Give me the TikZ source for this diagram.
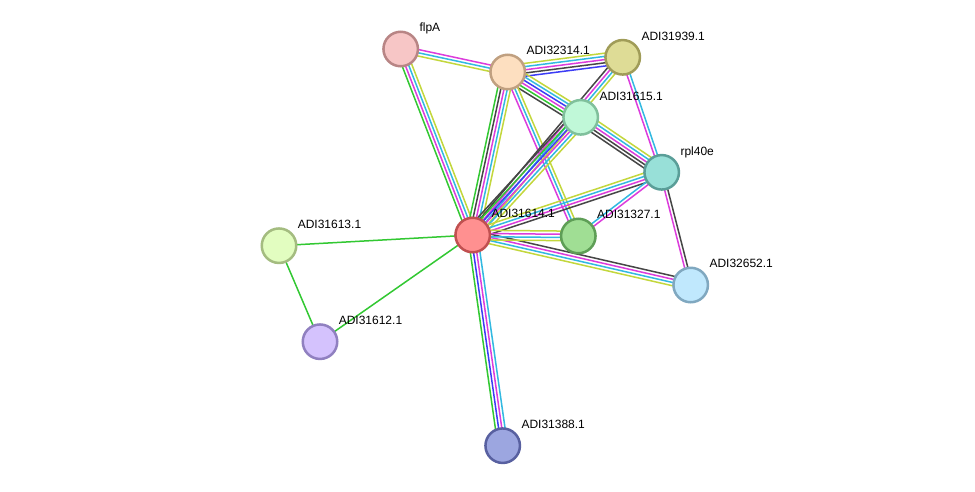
\documentclass[tikz,border=0pt]{standalone}
\usepackage{fontspec}
\setmainfont{Liberation Sans}
\usetikzlibrary{calc}
\pgfdeclarelayer{edges}
\pgfsetlayers{edges,main}

\definecolor{eGreen}{RGB}{50,200,50}
\definecolor{eBlue}{RGB}{60,60,245}
\definecolor{eMag}{RGB}{220,60,220}
\definecolor{eCyan}{RGB}{50,185,225}
\definecolor{eYel}{RGB}{195,215,60}
\definecolor{eBlack}{RGB}{70,70,70}

\tikzset{
  prot/.style={circle, minimum size=34.5pt, inner sep=0pt, line width=2.5pt},
  lbl/.style={anchor=base west, font=\fontsize{12}{14}\selectfont, inner sep=0pt, text=black},
  ln/.style={line width=1.5pt},
}

\newcommand\bund[4]{%
  \foreach \c [count=\i] in {#4}{%
    \pgfmathsetmacro\dd{(\i-(#3+1)/2)*3.2}%
    \draw[ln,color=\c] ($(#1.center)!\dd pt!90:(#2.center)$) -- ($(#2.center)!\dd pt!-90:(#1.center)$);
  }%
}

\begin{document}
\begin{tikzpicture}[x=1pt,y=-1pt]
\useasboundingbox (0,0) rectangle (975,491);

\node[prot, draw={rgb,255:red,184;green,133;blue,133}, fill={rgb,255:red,247;green,198;blue,198}] (flp) at (400.7,49) {};
\node[prot, draw={rgb,255:red,192;green,160;blue,128}, fill={rgb,255:red,253;green,223;blue,192}] (a32314) at (507.7,72) {};
\node[prot, draw={rgb,255:red,160;green,156;blue,88}, fill={rgb,255:red,222;green,220;blue,150}] (a31939) at (622.7,57.3) {};
\node[prot, draw={rgb,255:red,128;green,192;blue,156}, fill={rgb,255:red,192;green,248;blue,216}] (a31615) at (580.7,117.3) {};
\node[prot, draw={rgb,255:red,90;green,158;blue,152}, fill={rgb,255:red,152;green,224;blue,216}] (rpl) at (661.7,172.3) {};
\node[prot, draw={rgb,255:red,192;green,80;blue,80}, fill={rgb,255:red,255;green,144;blue,144}] (a31614) at (472.7,235) {};
\node[prot, draw={rgb,255:red,94;green,158;blue,86}, fill={rgb,255:red,160;green,222;blue,148}] (a31327) at (578.3,236) {};
\node[prot, draw={rgb,255:red,128;green,168;blue,192}, fill={rgb,255:red,192;green,232;blue,253}] (a32652) at (690.7,285) {};
\node[prot, draw={rgb,255:red,164;green,188;blue,128}, fill={rgb,255:red,226;green,253;blue,192}] (a31613) at (279,245.7) {};
\node[prot, draw={rgb,255:red,144;green,128;blue,192}, fill={rgb,255:red,212;green,194;blue,253}] (a31612) at (320,341.7) {};
\node[prot, draw={rgb,255:red,88;green,96;blue,160}, fill={rgb,255:red,156;green,166;blue,224}] (a31388) at (502.7,445.7) {};

\node[lbl] (lflp) at ($(flp)+(18.6,-17.3)$) {flpA};
\node[lbl] (l32314) at ($(a32314)+(18.6,-17.3)$) {ADI32314.1};
\node[lbl] (l31939) at ($(a31939)+(18.6,-17.3)$) {ADI31939.1};
\node[lbl] (l31615) at ($(a31615)+(18.6,-17.3)$) {ADI31615.1};
\node[lbl] (lrpl) at ($(rpl)+(18.6,-17.3)$) {rpl40e};
\node[lbl] (l31614) at ($(a31614)+(18.6,-17.3)$) {ADI31614.1};
\node[lbl] (l31327) at ($(a31327)+(18.6,-17.3)$) {ADI31327.1};
\node[lbl] (l32652) at ($(a32652)+(18.6,-17.3)$) {ADI32652.1};
\node[lbl] (l31613) at ($(a31613)+(18.6,-17.3)$) {ADI31613.1};
\node[lbl] (l31612) at ($(a31612)+(18.6,-17.3)$) {ADI31612.1};
\node[lbl] (l31388) at ($(a31388)+(18.6,-17.3)$) {ADI31388.1};

\begin{pgfonlayer}{edges}
\fill[white] (0,0) rectangle (975,491);
\bund{flp}{a32314}{3}{eYel,eCyan,eMag}
\bund{flp}{a31614}{4}{eGreen,eMag,eCyan,eYel}
\bund{a32314}{a31939}{5}{eBlue,eBlack,eMag,eCyan,eYel}
\bund{a32314}{a31615}{6}{eBlack,eGreen,eMag,eBlue,eCyan,eYel}
\bund{a32314}{a31614}{5}{eGreen,eBlack,eMag,eCyan,eYel}
\bund{a32314}{a31327}{3}{eMag,eCyan,eYel}
\bund{a31614}{a31939}{4}{eYel,eCyan,eMag,eBlack}
\bund{a31614}{a31615}{6}{eYel,eCyan,eMag,eBlue,eGreen,eBlack}
\bund{a31939}{rpl}{2}{eMag,eCyan}
\bund{a31615}{rpl}{5}{eBlack,eBlack,eMag,eCyan,eYel}
\bund{a31614}{rpl}{4}{eBlack,eMag,eCyan,eYel}
\bund{a31327}{rpl}{2}{eMag,eCyan}
\bund{rpl}{a32652}{2}{eMag,eBlack}
\bund{a31614}{a32652}{4}{eYel,eCyan,eMag,eBlack}
\bund{a31614}{a31327}{4}{eYel,eCyan,eMag,eYel}
\bund{a31614}{a31388}{4}{eGreen,eBlue,eMag,eCyan}
\bund{a31614}{a31613}{1}{eGreen}
\bund{a31614}{a31612}{1}{eGreen}
\bund{a31613}{a31612}{1}{eGreen}
\end{pgfonlayer}
\end{tikzpicture}
\end{document}
